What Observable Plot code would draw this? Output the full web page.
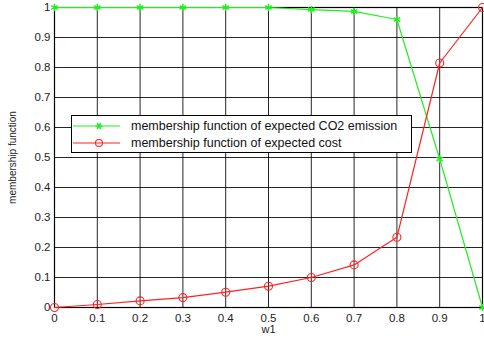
<!DOCTYPE html>
<html><head><meta charset="utf-8">
<script src="https://cdn.jsdelivr.net/npm/d3@7"></script>
<script src="https://cdn.jsdelivr.net/npm/@observablehq/plot@0.6"></script>
<style>
body{margin:0;background:#fff;font-family:"Liberation Sans",Arial,sans-serif;}
#wrap{position:relative;width:484px;height:344px;}
#legend{position:absolute;left:71px;top:115px;width:339px;height:36px;border:1.5px solid #000;background:#fff;font-size:12.5px;}
#legend .sw{position:absolute;left:0;}
#legend .lab{position:absolute;left:59px;line-height:14px;color:#111;white-space:nowrap;}
</style></head>
<body><div id="wrap"></div>
<script>
const w1 = [0,0.1,0.2,0.3,0.4,0.5,0.6,0.7,0.8,0.9,1];
const co2 = [1,1,1,1,1,1,0.993,0.987,0.96,0.495,0];
const cost = [0,0.01,0.022,0.033,0.051,0.071,0.1,0.142,0.234,0.815,1];
const xTicks = [0,0.1,0.2,0.3,0.4,0.5,0.6,0.7,0.8,0.9,1];
const yTicks = [0,0.1,0.2,0.3,0.4,0.5,0.6,0.7,0.8,0.9,1];
const seriesNames = ["membership function of expected CO2 emission","membership function of expected cost"];

const dCo2 = w1.map((x,i)=>({x, y: co2[i]}));
const dCost = w1.map((x,i)=>({x, y: cost[i]}));
const fmt = d => d===0?"0":d===1?"1":String(d);

const plot = Plot.plot({
  width:484, height:344,
  marginLeft:54, marginRight:2, marginTop:7, marginBottom:37,
  style:{fontFamily:"Liberation Sans, Arial, sans-serif", fontSize:"11.5px", background:"#fff", overflow:"visible"},
  x:{domain:[0,1], ticks:xTicks, tickFormat:fmt, label:null},
  y:{domain:[0,1], ticks:yTicks, tickFormat:fmt, label:null},
  marks:[
    Plot.gridX(xTicks,{stroke:"#000", strokeOpacity:0.85, strokeWidth:1}),
    Plot.gridY(yTicks,{stroke:"#000", strokeOpacity:0.85, strokeWidth:1}),
    Plot.frame({stroke:"#000", strokeWidth:1.2}),
    Plot.axisX({ticks:xTicks, tickFormat:fmt, tickSize:0, tickPadding:6, fontSize:11.5, fill:"#222"}),
    Plot.axisY({ticks:yTicks, tickFormat:fmt, tickSize:0, tickPadding:4, fontSize:11.5, fill:"#222"}),
    Plot.line(dCo2,{x:"x", y:"y", stroke:"#22ee22", strokeWidth:1.2}),
    Plot.dot(dCo2,{x:"x", y:"y", symbol:"asterisk", stroke:"#22ee22", r:3.5, strokeWidth:1.5}),
    Plot.line(dCost,{x:"x", y:"y", stroke:"#ff2222", strokeWidth:1.2}),
    Plot.dot(dCost,{x:"x", y:"y", symbol:"circle", stroke:"#ff2222", fill:"none", r:4, strokeWidth:1.1}),
    Plot.text(["w1"],{frameAnchor:"bottom", dy:25, fontSize:11, fill:"#222"}),
    Plot.text(["membership function"],{frameAnchor:"left", rotate:-90, dx:-42, textAnchor:"middle", fontSize:10, fill:"#222"})
  ]
});
const wrap = document.getElementById("wrap");
wrap.appendChild(plot);

const lg = document.createElement("div");
lg.id = "legend";
const colors = ["#22ee22","#ff2222"];
seriesNames.forEach((name,i)=>{
  const top = 3 + i*16.5;
  const marker = i===0
    ? `<g stroke="${colors[i]}" stroke-width="1.5"><line x1="-3.5" y1="0" x2="3.5" y2="0"/><line x1="-1.8" y1="-3" x2="1.8" y2="3"/><line x1="-1.8" y1="3" x2="1.8" y2="-3"/></g>`
    : `<circle r="3.5" fill="none" stroke="${colors[i]}" stroke-width="1.1"/>`;
  const sw = document.createElement("div");
  sw.className = "sw"; sw.style.top = top + "px";
  sw.innerHTML = `<svg width="52" height="14"><line x1="1" y1="7" x2="48" y2="7" stroke="${colors[i]}" stroke-width="1.2"/><g transform="translate(27,7)">${marker}</g></svg>`;
  const lab = document.createElement("div");
  lab.className = "lab"; lab.style.top = (top) + "px";
  lab.textContent = name;
  lg.appendChild(sw); lg.appendChild(lab);
});
wrap.appendChild(lg);
</script></body></html>
